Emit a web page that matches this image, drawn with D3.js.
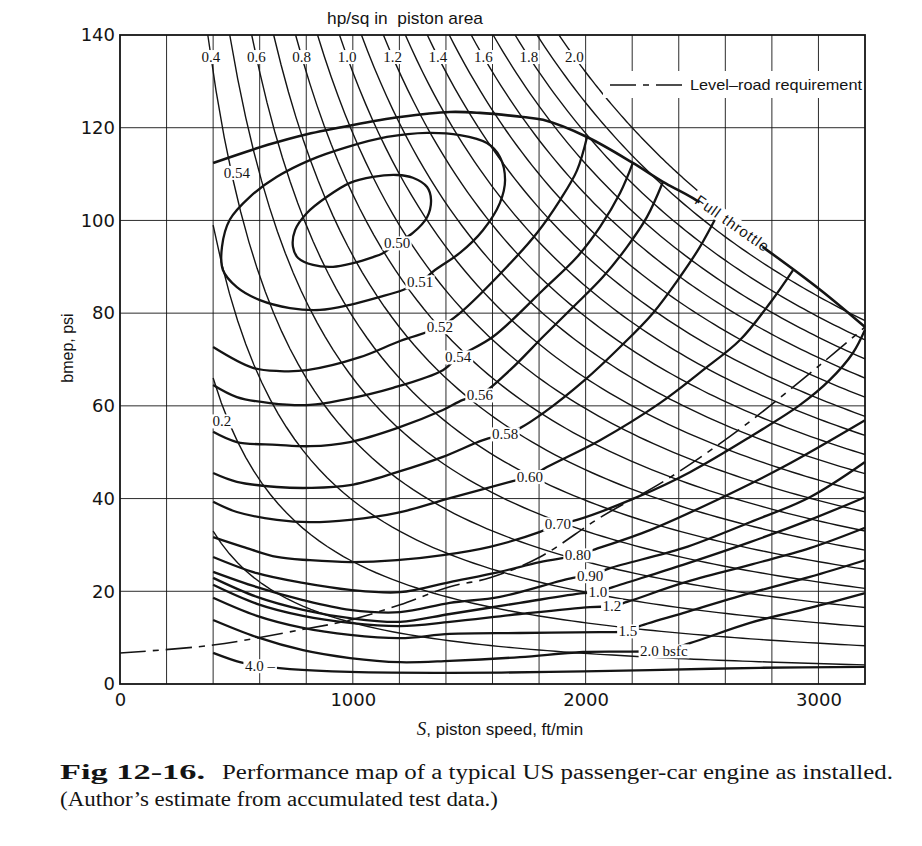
<!DOCTYPE html>
<html>
<head>
<meta charset="utf-8">
<script src="https://cdn.jsdelivr.net/npm/d3@7"></script>
<style>
  body { margin: 0; background: #fff; }
</style>
</head>
<body>
<svg id="chart" width="922" height="846"></svg>
<script>
// axis ticks
var xTicks = [0, 1000, 2000, 3000];
var yTicks = [0, 20, 40, 60, 80, 100, 120, 140];

// constant-power lines, hp per sq in of piston area
var hpLevels = [0.1, 0.2, 0.3, 0.4, 0.5, 0.6, 0.7, 0.8, 0.9, 1.0,
                1.1, 1.2, 1.3, 1.4, 1.5, 1.6, 1.7, 1.8, 1.9, 2.0];
var hpTopLabels = [0.4, 0.6, 0.8, 1.0, 1.2, 1.4, 1.6, 1.8, 2.0];
var hpSideLabel = ["0.2", 438, 56.7];
var K = 132000; // bmep * S / (hp per sq in), four-stroke
var hp20End = 2480; // the 2.0 line stops at the full-throttle label

// [S ft/min, bmep psi]
var fullThrottle = [[400, 112.4], [635, 116.3], [803, 118.6], [1001, 120.6], [1203, 122.3],
  [1417, 123.4], [1546, 123.2], [1731, 122.3], [1817, 121.7], [2006, 118.0], [2203, 112.4],
  [2332, 108.3], [2461, 104.8], [2779, 93.6], [3006, 85.1], [3200, 77.0]];

var levelRoad = [[0, 6.7], [400, 8.4], [777, 11.7], [988, 13.8], [1203, 17.1], [1417, 21.0],
  [1589, 22.9], [1804, 27.4], [2062, 35.9], [2348, 44.1], [2676, 55.5], [3006, 68.8], [3200, 77.0]];

// bsfc contours (closed)
var bsfc050 = [[1258, 97.3], [1319, 100.7], [1336, 104.4], [1319, 107.2], [1258, 109.2],
  [1190, 109.8], [1087, 109.4], [988, 108.1], [889, 105.1], [803, 101.6], [752, 97.9],
  [743, 94.3], [765, 91.9], [829, 90.4], [915, 90.0], [1001, 90.8], [1087, 92.1],
  [1125, 92.8], [1190, 95.1]];
var bsfc051 = [[1353, 89.3], [1460, 93.0], [1559, 97.9], [1632, 103.8], [1654, 108.7],
  [1632, 113.7], [1576, 116.7], [1460, 118.4], [1319, 118.9], [1147, 118.0], [975, 115.8],
  [816, 113.0], [674, 109.4], [558, 105.1], [472, 100.2], [438, 94.3], [442, 89.3],
  [502, 85.6], [601, 82.8], [730, 81.1], [859, 80.7], [988, 81.8], [1117, 83.5],
  [1215, 85.0], [1289, 86.7]];

// bsfc contours (open)
var bsfc052 = [[400, 72.7], [571, 68.2], [687, 67.5], [803, 67.7], [1031, 70.5], [1203, 74.0],
  [1374, 77.0], [1460, 80.0], [1662, 90.0], [1791, 97.3], [1890, 104.4], [1963, 110.8], [2006, 118.0]];
var bsfc054 = [[400, 64.5], [502, 61.9], [644, 60.6], [816, 60.2], [958, 61.3], [1173, 63.9],
  [1387, 67.7], [1452, 70.5], [1602, 74.9], [1817, 85.0], [1963, 92.1], [2062, 98.6],
  [2148, 105.9], [2203, 112.4]];
var bsfc056 = [[400, 54.4], [502, 52.2], [674, 51.6], [816, 51.3], [988, 52.2], [1190, 55.2],
  [1387, 59.1], [1473, 61.3], [1546, 62.3], [1675, 67.7], [1817, 74.9], [1946, 81.3],
  [2074, 87.8], [2178, 94.3], [2263, 100.7], [2332, 108.3]];
var bsfc058 = [[400, 45.5], [502, 43.6], [674, 42.5], [816, 42.3], [988, 42.9], [1190, 45.7],
  [1387, 49.0], [1559, 52.6], [1654, 53.9], [1718, 55.2], [1825, 58.7], [1997, 65.6],
  [2148, 72.7], [2289, 80.0], [2405, 87.8], [2491, 94.3], [2564, 101.0]];
var bsfc060 = [[400, 39.3], [502, 37.1], [674, 35.4], [816, 34.9], [988, 35.4], [1190, 36.9],
  [1417, 40.1], [1675, 43.6], [1761, 44.7], [1834, 46.8], [2062, 52.6], [2319, 60.6],
  [2504, 67.7], [2663, 74.2], [2792, 82.2], [2891, 89.3]];
var bsfc070 = [[400, 31.7], [528, 29.6], [674, 27.4], [816, 26.7], [988, 26.3], [1190, 26.7],
  [1387, 27.8], [1589, 29.6], [1804, 32.8], [1881, 34.5], [1963, 35.4], [2221, 40.3],
  [2448, 45.7], [2706, 53.3], [2921, 60.2], [3049, 65.6], [3148, 71.4], [3200, 76.4]];
var bsfc080 = [[400, 27.4], [588, 23.9], [786, 21.8], [988, 20.3], [1203, 19.8], [1417, 22.0],
  [1632, 24.2], [1804, 26.3], [1967, 27.8], [2032, 28.9], [2276, 33.2], [2564, 39.7],
  [2848, 46.8], [3200, 56.9]];
var bsfc090 = [[400, 24.2], [588, 20.9], [786, 18.1], [988, 16.0], [1203, 15.5], [1417, 17.5],
  [1632, 18.8], [1946, 22.9], [2019, 23.3], [2105, 25.0], [2418, 29.3], [2706, 34.9],
  [2963, 40.3], [3200, 47.9]];
var bsfc100 = [[400, 22.9], [588, 18.8], [786, 16.0], [988, 14.2], [1203, 13.4], [1417, 15.1],
  [1718, 17.5], [1989, 19.6], [2053, 19.8], [2117, 20.9], [2418, 25.7], [2706, 30.6],
  [2963, 35.4], [3200, 40.3]];
var bsfc120 = [[400, 21.4], [588, 17.3], [786, 14.7], [988, 13.2], [1203, 12.5], [1417, 13.4],
  [1718, 15.1], [2019, 16.6], [2113, 16.8], [2178, 17.7], [2418, 21.8], [2706, 25.7],
  [2963, 29.3], [3200, 33.7]];
var bsfc150 = [[400, 18.6], [588, 14.7], [786, 12.1], [988, 10.6], [1203, 9.9], [1417, 10.8],
  [1718, 11.0], [2062, 11.2], [2182, 11.4], [2221, 12.3], [2418, 15.3], [2706, 19.6],
  [2963, 23.1], [3200, 26.7]];
var bsfc200 = [[400, 13.8], [588, 10.1], [786, 7.3], [988, 5.6], [1203, 4.7], [1417, 5.0],
  [1718, 5.8], [1989, 6.9], [2336, 7.3], [2448, 8.8], [2706, 13.2], [2963, 16.4], [3200, 19.6]];
var bsfc400 = [[400, 6.7], [515, 4.7], [601, 3.9], [730, 3.2], [988, 2.6], [1417, 2.4],
  [1847, 2.6], [2276, 3.0], [2749, 3.5], [3200, 3.7]];

// [text, S, bmep] label centres
var bsfcLabels = [["0.50", 1190, 95.1], ["0.51", 1289, 86.7], ["0.52", 1374, 77.0],
  ["0.54", 1452, 70.5], ["0.54", 502, 110.3], ["0.56", 1546, 62.3], ["0.58", 1654, 53.9],
  ["0.60", 1761, 44.7], ["0.70", 1881, 34.5], ["0.80", 1967, 27.8], ["0.90", 2019, 23.3],
  ["1.0", 2053, 19.8], ["1.2", 2113, 16.8], ["1.5", 2182, 11.4], ["2.0 bsfc", 2336, 7.1],
  ["4.0 \u2013", 601, 3.9]];
var throttleLabel = ["Full throttle", 2629, 99.4];

var svg = d3.select("#chart");
var ink = "#141414";

var x = d3.scaleLinear().domain([0, 3200]).range([120, 865]);
var y = d3.scaleLinear().domain([0, 140]).range([684, 35]);

var straightLine = d3.line().x((d) => x(d[0])).y((d) => y(d[1]));
var smoothLine = d3.line().x((d) => x(d[0])).y((d) => y(d[1])).curve(d3.curveCatmullRom.alpha(0.5));
var loopLine = d3.line().x((d) => x(d[0])).y((d) => y(d[1])).curve(d3.curveCatmullRomClosed.alpha(0.5));

// Grid, every 200 ft/min and every 20 psi.
var grid = svg.append("g").attr("stroke", ink).attr("stroke-width", 0.9);
grid.selectAll("line.v")
  .data(d3.range(200, 3200, 200))
  .join("line")
  .attr("x1", (d) => x(d)).attr("x2", (d) => x(d))
  .attr("y1", y(0)).attr("y2", y(140));
grid.selectAll("line.h")
  .data(d3.range(20, 140, 20))
  .join("line")
  .attr("x1", x(0)).attr("x2", x(3200))
  .attr("y1", (d) => y(d)).attr("y2", (d) => y(d));

// Constant hp/sq in lines.
var hpLines = hpLevels.map(function (h) {
  var s0 = K * h / 140 >= 370 ? K * h / 140 : 400; // top edge, or the 400 ft/min line
  var s1 = h === 2.0 ? hp20End : 3200;
  return d3.range(0, 81).map((i) => {
    var s = s0 + (s1 - s0) * i / 80;
    return [s, K * h / s];
  });
});
svg.append("g")
  .attr("fill", "none").attr("stroke", ink).attr("stroke-width", 1.4)
  .selectAll("path")
  .data(hpLines)
  .join("path")
  .attr("d", straightLine);

// Level-road requirement.
svg.append("path")
  .datum(levelRoad)
  .attr("fill", "none").attr("stroke", ink).attr("stroke-width", 1.6)
  .attr("stroke-dasharray", "26,7,6,7")
  .attr("d", smoothLine);

// bsfc contours.
var contours = svg.append("g").attr("fill", "none").attr("stroke", ink).attr("stroke-width", 2.3);
[bsfc050, bsfc051].forEach((c) => contours.append("path").datum(c).attr("d", loopLine));
[bsfc052, bsfc054, bsfc056, bsfc058, bsfc060, bsfc070, bsfc080, bsfc090,
 bsfc100, bsfc120, bsfc150, bsfc200, bsfc400]
  .forEach((c) => contours.append("path").datum(c).attr("d", smoothLine));

// Full throttle line.
svg.append("path")
  .datum(fullThrottle)
  .attr("fill", "none").attr("stroke", ink).attr("stroke-width", 2.6)
  .attr("d", smoothLine);

// Frame.
svg.append("rect")
  .attr("x", x(0)).attr("y", y(140))
  .attr("width", x(3200) - x(0)).attr("height", y(0) - y(140))
  .attr("fill", "none").attr("stroke", ink).attr("stroke-width", 1.8);

// Labels sit on a white patch that breaks the lines beneath.
var labels = svg.append("g");
function addLabel(text, px, py, font, size, angle) {
  var g = labels.append("g")
    .attr("transform", `translate(${px},${py}) rotate(${angle || 0})`);
  var t = g.append("text")
    .attr("text-anchor", "middle").attr("dy", "0.35em")
    .attr("font-family", font).attr("font-size", size)
    .attr("fill", ink)
    .text(text);
  var b = t.node().getBBox();
  g.insert("rect", "text")
    .attr("x", b.x - 1.5).attr("y", b.y + 1)
    .attr("width", b.width + 3).attr("height", b.height - 2)
    .attr("fill", "#fff");
  return t;
}

var serif = "Liberation Serif, serif";
var sans = "Liberation Sans, Arial, sans-serif";

hpTopLabels.forEach((h) =>
  addLabel(h.toFixed(1), x(K * h / 135.3), y(135.3), serif, 15));
addLabel(hpSideLabel[0], x(hpSideLabel[1]), y(hpSideLabel[2]), serif, 15);
bsfcLabels.forEach((l) => addLabel(l[0], x(l[1]), y(l[2]), serif, 15));

var ftA = fullThrottle[12], ftB = fullThrottle[13];
var ftAngle = Math.atan2(y(ftB[1]) - y(ftA[1]), x(ftB[0]) - x(ftA[0])) * 180 / Math.PI;
addLabel(throttleLabel[0], x(throttleLabel[1]), y(throttleLabel[2]), sans, 15, ftAngle)
  .attr("textLength", 86).attr("lengthAdjust", "spacing");

// Legend.
var legend = svg.append("g");
legend.append("rect")
  .attr("x", 603).attr("y", 71).attr("width", 261).attr("height", 27)
  .attr("fill", "#fff");
legend.append("line")
  .attr("x1", 610).attr("x2", 682).attr("y1", 85).attr("y2", 85)
  .attr("stroke", ink).attr("stroke-width", 1.6)
  .attr("stroke-dasharray", "26,7,6,7");
legend.append("text")
  .attr("x", 690).attr("y", 90)
  .attr("font-family", sans).attr("font-size", 15).attr("fill", ink)
  .attr("textLength", 172).attr("lengthAdjust", "spacingAndGlyphs")
  .text("Level\u2013road requirement");

// Axes (tick labels only).
var axisFont = "DejaVu Sans, sans-serif";
svg.append("g")
  .attr("transform", `translate(0,${y(0)})`)
  .call(d3.axisBottom(x).tickValues(xTicks).tickSize(0).tickPadding(9).tickFormat(d3.format("d")))
  .call((g) => g.select(".domain").remove())
  .call((g) => g.selectAll("text").attr("font-family", axisFont).attr("font-size", 18).attr("fill", ink));

svg.append("g")
  .attr("transform", `translate(${x(0)},0)`)
  .call(d3.axisLeft(y).tickValues(yTicks).tickSize(0).tickPadding(5))
  .call((g) => g.select(".domain").remove())
  .call((g) => g.selectAll("text").attr("font-family", axisFont).attr("font-size", 18).attr("fill", ink));

// Titles.
svg.append("text")
  .attr("x", 405).attr("y", 24).attr("text-anchor", "middle")
  .attr("font-family", sans).attr("font-size", 17).attr("fill", ink)
  .attr("textLength", 156).attr("lengthAdjust", "spacingAndGlyphs")
  .text("hp/sq in \u00a0piston area");

svg.append("text")
  .attr("transform", "translate(73,348) rotate(-90)")
  .attr("text-anchor", "middle")
  .attr("font-family", sans).attr("font-size", 16).attr("fill", ink)
  .text("bmep, psi");

var xt = svg.append("text")
  .attr("x", 500).attr("y", 735).attr("text-anchor", "middle")
  .attr("font-family", sans).attr("font-size", 17).attr("fill", ink);
xt.append("tspan").attr("font-family", serif).attr("font-style", "italic").attr("font-size", 19).text("S");
xt.append("tspan").text(", piston speed, ft/min");

// Caption.
svg.append("text")
  .attr("x", 60).attr("y", 779)
  .attr("font-family", serif).attr("font-size", 20).attr("font-weight", "bold").attr("fill", ink)
  .attr("textLength", 145).attr("lengthAdjust", "spacingAndGlyphs")
  .text("Fig 12-16.");
svg.append("text")
  .attr("x", 222).attr("y", 779)
  .attr("font-family", serif).attr("font-size", 20).attr("fill", ink)
  .attr("textLength", 671).attr("lengthAdjust", "spacingAndGlyphs")
  .text("Performance map of a typical US passenger-car engine as installed.");
svg.append("text")
  .attr("x", 60).attr("y", 806)
  .attr("font-family", serif).attr("font-size", 20).attr("fill", ink)
  .attr("textLength", 438).attr("lengthAdjust", "spacingAndGlyphs")
  .text("(Author\u2019s estimate from accumulated test data.)");
</script>
</body>
</html>
